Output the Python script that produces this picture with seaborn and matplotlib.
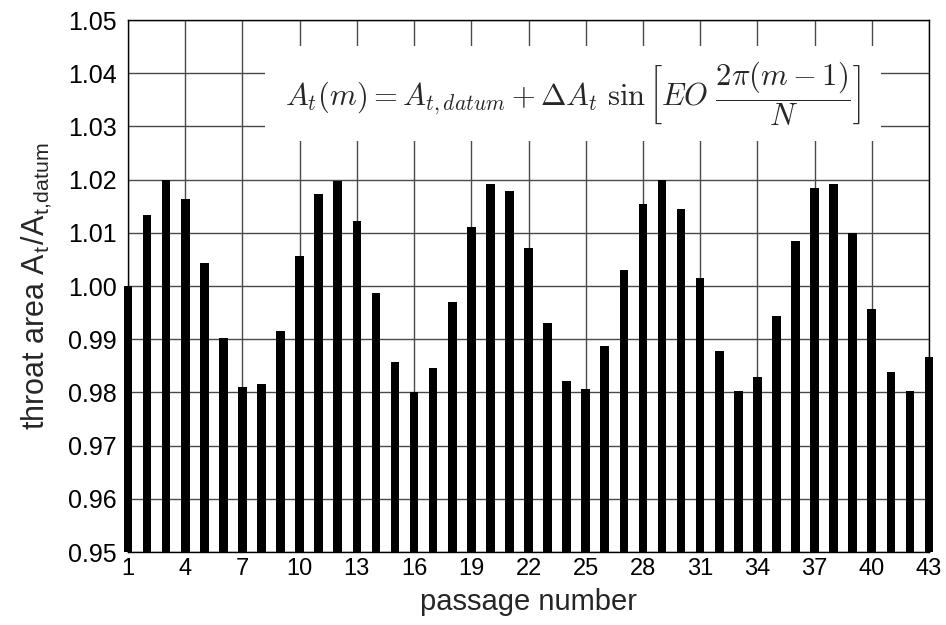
import numpy as np
import pandas as pd
import matplotlib
matplotlib.use("Agg")
import matplotlib.pyplot as plt
from matplotlib.patches import Rectangle
from matplotlib.transforms import Bbox, TransformedBbox
from matplotlib.ticker import FormatStrFormatter
import seaborn as sns

# passage numbers and throat area ratio
passage = list(range(1, 44))
area_ratio = [
    1.0000, 1.0134, 1.0200, 1.0164, 1.0043, 0.9902, 0.9811, 0.9816, 0.9915, 1.0057,
    1.0172, 1.0197, 1.0123, 0.9986, 0.9857, 0.9801, 0.9846, 0.9970, 1.0110, 1.0192,
    1.0178, 1.0071, 0.9930, 0.9822, 0.9806, 0.9888, 1.0030, 1.0154, 1.0200, 1.0145,
    1.0015, 0.9878, 0.9803, 0.9829, 0.9943, 1.0085, 1.0185, 1.0191, 1.0100, 0.9956,
    0.9838, 0.9802, 0.9866,
]
x_ticks = list(range(1, 44, 3))
y_ticks = [0.95, 0.96, 0.97, 0.98, 0.99, 1.00, 1.01, 1.02, 1.03, 1.04, 1.05]

df = pd.DataFrame({"passage": passage, "ratio": area_ratio})

sns.set_theme(style="white")
plt.rcParams["font.family"] = ["Liberation Sans", "DejaVu Sans"]
plt.rcParams["mathtext.fontset"] = "cm"

fig = plt.figure(figsize=(9.46, 6.25), dpi=100)
ax = fig.add_axes([128 / 946, 1 - 552 / 625, (929 - 128) / 946, (552 - 20) / 625])

sns.barplot(data=df, x="passage", y="ratio", native_scale=True, color="black",
            width=0.45, saturation=1, errorbar=None, ax=ax, zorder=3)

# let the end bars stick out past the spines, like the original
clip = TransformedBbox(Bbox([[-0.02, 0], [1.02, 1]]), ax.transAxes)
for p in ax.patches:
    p.set_clip_box(clip)
    p.set_edgecolor("none")

ax.set_xlim(1, 43)
ax.set_ylim(0.95, 1.05)
ax.set_xticks(x_ticks)
ax.set_yticks(y_ticks)
ax.yaxis.set_major_formatter(FormatStrFormatter("%.2f"))
ax.tick_params(axis="both", length=0, colors="black")
ax.tick_params(axis="y", pad=8, labelsize=18)
ax.tick_params(axis="x", pad=4, labelsize=17)

ax.set_axisbelow(True)
ax.grid(True, color="#4a4a4a", linewidth=1.0)
for s in ax.spines.values():
    s.set_color("black")
    s.set_linewidth(1.0)

ax.set_xlabel("passage number", fontsize=21, labelpad=6)
ax.set_ylabel(r"throat area A$_\mathregular{t}$/A$_\mathregular{t{,}datum}$", fontsize=22, labelpad=10)

# white box behind the formula
ax.add_patch(Rectangle((0.171, 0.773), 0.769, 0.178, transform=ax.transAxes,
                       facecolor="white", edgecolor="none", zorder=2))
ax.text(0.556, 0.862,
        r"$A_t(m) = A_{t,datum} + \Delta A_t\ \sin\left[EO\ \dfrac{2\pi(m-1)}{N}\right]$",
        transform=ax.transAxes, ha="center", va="center", fontsize=22, zorder=4)

fig.savefig("out.png", dpi=100)
